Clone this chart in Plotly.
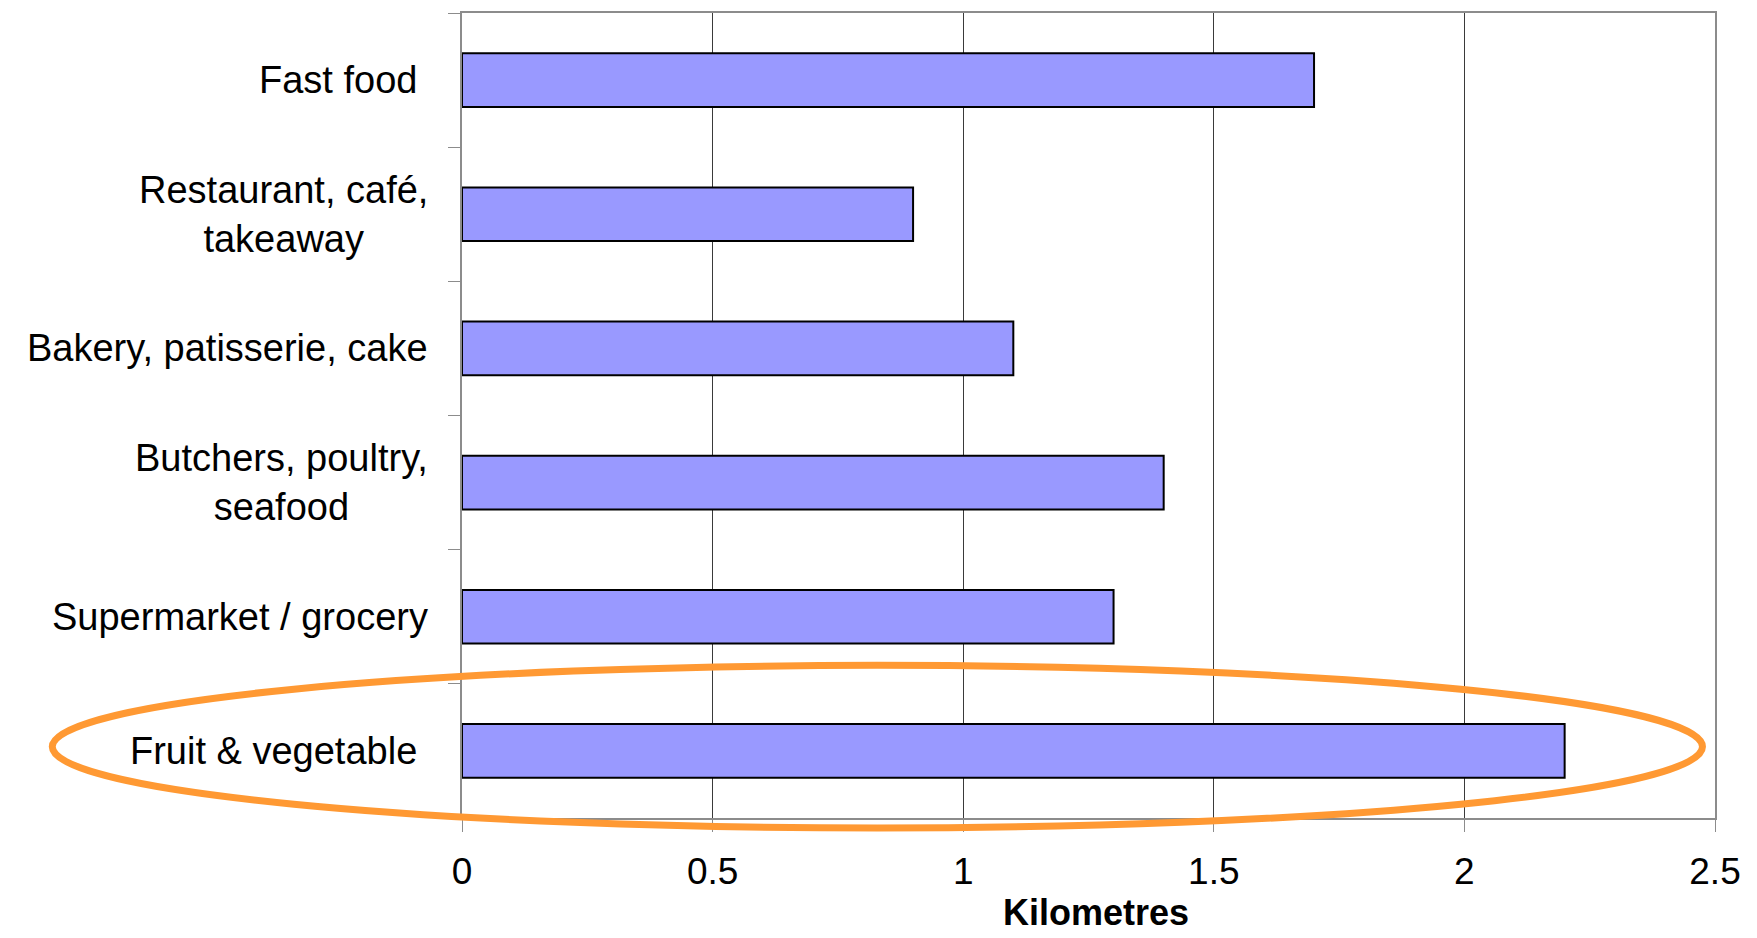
import plotly.graph_objects as go

# Distance to the nearest outlet, by outlet type (km)
categories = [
    "Fast food",
    "Restaurant, café,<br>takeaway",
    "Bakery, patisserie, cake",
    "Butchers, poultry,<br>seafood",
    "Supermarket / grocery",
    "Fruit & vegetable",
]
distance_km = [1.7, 0.9, 1.1, 1.4, 1.3, 2.2]
x_ticks = [0, 0.5, 1, 1.5, 2, 2.5]
x_tick_text = ["0", "0.5", "1", "1.5", "2", "2.5"]
x_title = "Kilometres"

FONT = "Liberation Sans, Arial, sans-serif"
AXIS_GREY = "#8c8c8c"
PAD_LABELS = ("Fast food", "Fruit & vegetable")

fig = go.Figure(
    go.Bar(
        x=distance_km,
        y=categories,
        orientation="h",
        marker=dict(color="#9999FF", line=dict(color="black", width=2)),
        width=0.4,
        hoverinfo="x+y",
    )
)

# Category labels: right-aligned block, lines centred within it
for cat in categories:
    fig.add_annotation(
        x=-0.0255, xref="paper", xanchor="right",
        y=cat, yref="y", yanchor="middle",
        text=cat + ("\u00a0" if cat in PAD_LABELS else ""),
        align="center", showarrow=False,
        font=dict(family=FONT, size=38, color="black"),
    )

# Axis title along the bottom edge, under the tick labels
fig.add_annotation(
    x=0.506, xref="paper", xanchor="center",
    y=0.0, yref="paper", yanchor="bottom", yshift=-117,
    text="<b>" + x_title + "</b>", showarrow=False,
    font=dict(family=FONT, size=36, color="black"),
)

# Highlight ring round the fruit & vegetable row
fig.add_shape(
    type="circle", xref="paper", yref="paper",
    x0=-0.327, x1=0.990, y0=-0.0124, y1=0.1896,
    line=dict(color="#FF9933", width=7),
    fillcolor="rgba(0,0,0,0)", layer="above",
)

fig.update_xaxes(
    range=[0, 2.5], tickvals=x_ticks, ticktext=x_tick_text,
    showgrid=True, gridcolor="#3a3a3a", gridwidth=1, zeroline=False,
    showline=True, linecolor=AXIS_GREY, linewidth=2, mirror=True,
    ticks="outside", ticklen=12, tickcolor=AXIS_GREY, tickwidth=1,
    ticklabelstandoff=8,
    tickfont=dict(family=FONT, size=37, color="black"),
)
fig.update_yaxes(
    categoryorder="array", categoryarray=categories, autorange="reversed",
    showgrid=False, zeroline=False, showticklabels=False,
    showline=True, linecolor=AXIS_GREY, linewidth=2, mirror=True,
    ticks="outside", tickson="boundaries", ticklen=12, tickcolor=AXIS_GREY, tickwidth=1,
)

fig.update_layout(
    width=1757, height=938,
    margin=dict(l=462, r=42, t=11, b=120),
    paper_bgcolor="white", plot_bgcolor="white",
    showlegend=False, bargap=0.6,
)

fig.write_html("out.html")
